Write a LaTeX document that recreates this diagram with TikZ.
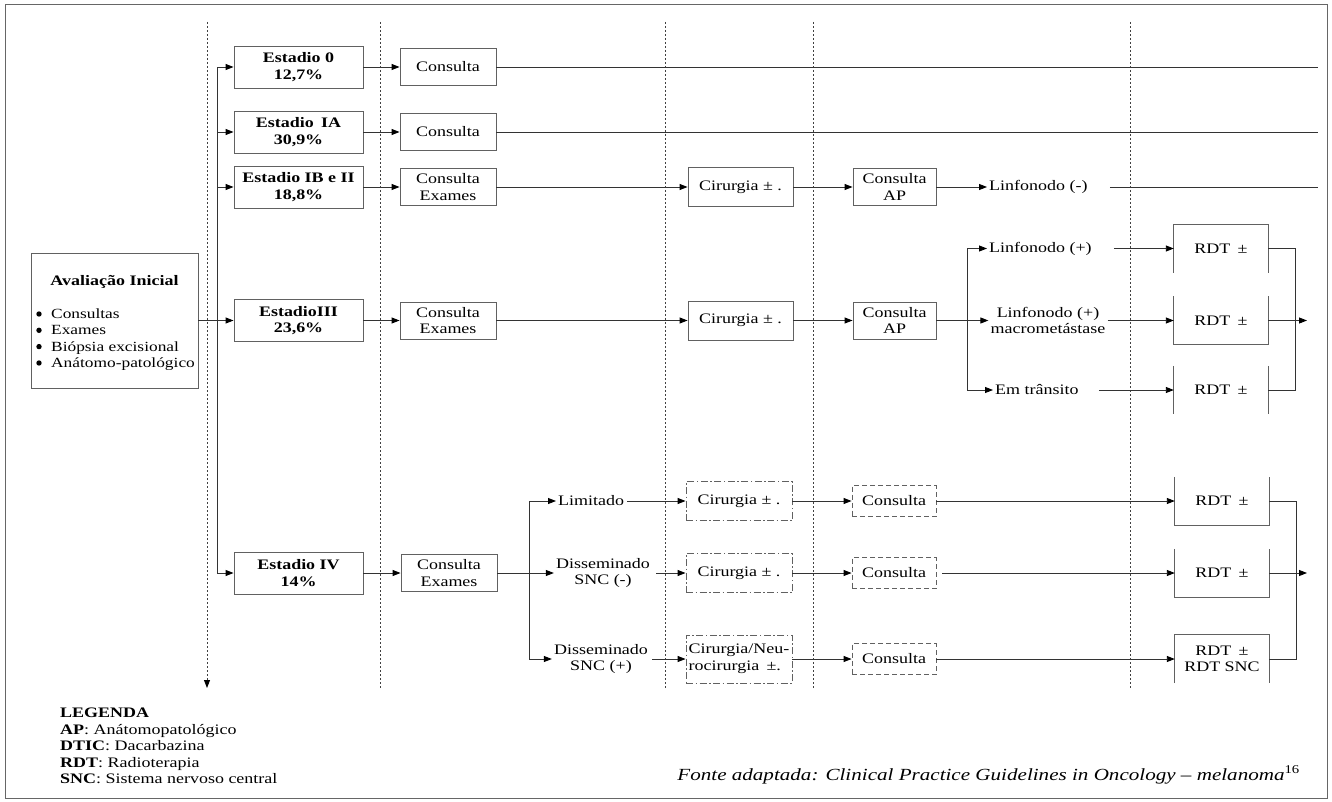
\documentclass[tikz,border=0pt]{standalone}
\usepackage{fontspec}
\setmainfont{Liberation Serif}[FakeStretch=1.24]
\usepackage{tikz}
\usetikzlibrary{arrows.meta}
\definecolor{borda}{gray}{0.38}
\definecolor{traco}{gray}{0.2}
\tikzset{
    linha/.style={draw=traco, line width=0.9pt},
    seta/.style={linha, -{Triangle[length=8pt,width=6pt,color=black]}},
    grade/.style={draw=black!75, line width=0.9pt, dash pattern=on 1.6pt off 2.4pt},
    caixa/.style={draw=borda, line width=0.9pt, align=center, inner sep=2pt},
    estagio/.style={caixa, font=\bfseries, minimum width=129pt, minimum height=42pt},
    consulta/.style={caixa, minimum width=96pt, minimum height=37pt},
    cirurgia/.style={caixa, minimum width=105pt, minimum height=39pt},
    consap/.style={caixa, minimum width=83pt, minimum height=37pt},
    cirtrac/.style={caixa, dash pattern=on 7pt off 2.5pt on 1.5pt off 2.5pt, minimum width=106pt, minimum height=39pt},
    constrac/.style={caixa, dash pattern=on 5pt off 3pt, minimum width=84pt, minimum height=31pt},
    rdt/.style={align=center, inner sep=2pt, minimum width=94pt, minimum height=48pt},
    rotulo/.style={align=center, inner sep=2pt},
    moldura/.style={draw=black!60, line width=1pt}
}
\begin{document}
\fontsize{14.5}{16.5}\selectfont
\begin{tikzpicture}[x=1pt, y=-1pt]
    \useasboundingbox (0,0) rectangle (1332,802);
    \draw[moldura] (5,5) rectangle (1327,798);

    \draw[grade, -{Triangle[length=8pt,width=6pt,color=black]}] (207,22) -- (207,688);
    \foreach \x in {380,665,813,1130}
        \draw[grade] (\x,22) -- (\x,688);

    \node[caixa, minimum width=167pt, minimum height=135pt] (aval) at (114.5,320.5) {};
    \node[font=\bfseries] (avaltit) at (114.5,282) {Avaliação Inicial};
    \node[anchor=north west, align=left, inner sep=0pt, font=\fontsize{14}{16.3}\selectfont] (avallista) at (51,308.5) {Consultas\\Exames\\Biópsia excisional\\Anátomo-patológico};
    \foreach \y in {314,330.3,346.6,363}
        \fill (39,\y) circle (2.7pt);

    \node[estagio] (e0) at (298.5,67) {Estadio 0\\12,7\%};
    \node[estagio] (e1a) at (298.5,132) {Estadio\enspace IA\\30,9\%};
    \node[estagio] (e1b) at (298.5,187) {Estadio IB e II\\18,8\%};
    \node[estagio] (e3) at (298.5,320.5) {EstadioIII\\23,6\%};
    \node[estagio] (e4) at (298.5,573) {Estadio IV\\14\%};

    \node[consulta] (c0) at (448,67) {Consulta};
    \node[consulta] (c1a) at (448,132) {Consulta};
    \node[consulta] (c1b) at (448,187) {Consulta\\Exames};
    \node[consulta] (c3) at (448,320.5) {Consulta\\Exames};
    \node[consulta] (c4) at (449,573) {Consulta\\Exames};

    \coordinate (tronco) at (217,320.5);
    \draw[seta] (aval) -- (e3);
    \draw[seta] (tronco) |- (e0);
    \draw[seta] (tronco) |- (e1a);
    \draw[seta] (tronco) |- (e1b);
    \draw[seta] (tronco) |- (e4);
    \foreach \a/\b in {e0/c0,e1a/c1a,e1b/c1b,e3/c3,e4/c4}
        \draw[seta] (\a) -- (\b);

    \coordinate (fim0) at (1318,67);
    \coordinate (fim1a) at (1318,132);
    \coordinate (fim1b) at (1318,187);
    \draw[linha] (c0) -- (fim0);
    \draw[linha] (c1a) -- (fim1a);

    \node[cirurgia] (cir1b) at (740.5,187) {Cirurgia ± .};
    \node[consap] (ap1b) at (894.5,187) {Consulta\\AP};
    \node[rotulo, anchor=west] (linfneg) at (987,187) {Linfonodo (-)};
    \draw[seta] (c1b) -- (cir1b);
    \draw[seta] (cir1b) -- (ap1b);
    \draw[seta] (ap1b) -- (linfneg);
    \draw[linha] ([xshift=20pt]linfneg.east) -- (fim1b);

    \node[cirurgia] (cir3) at (740.5,320.5) {Cirurgia ± .};
    \node[consap] (ap3) at (894.5,320.5) {Consulta\\AP};
    \draw[seta] (c3) -- (cir3);
    \draw[seta] (cir3) -- (ap3);

    \coordinate (ramo3) at (967,320.5);
    \node[rotulo, anchor=west] (linfpos) at (987,248.5) {Linfonodo (+)};
    \node[rotulo] (macro) at (1048,320.5) {Linfonodo (+)\\macrometástase};
    \node[rotulo, anchor=west] (transito) at (993,390) {Em trânsito};
    \draw[seta] (ap3) -- (macro);
    \draw[seta] (ramo3) |- (linfpos);
    \draw[seta] (ramo3) |- (transito);

    \node[rdt] (rdt1) at (1221,248.5) {RDT\enspace ±};
    \node[rdt] (rdt2) at (1221,320.5) {RDT\enspace ±};
    \node[rdt] (rdt3) at (1221,390) {RDT\enspace ±};
    \draw[borda, line width=0.9pt] (rdt1.south west) -- (rdt1.north west) -- (rdt1.north east) -- (rdt1.south east);
    \draw[borda, line width=0.9pt] (rdt2.north west) -- (rdt2.south west) -- (rdt2.south east) -- (rdt2.north east);
    \draw[borda, line width=0.9pt] (rdt3.north west) -- (rdt3.south west) (rdt3.north east) -- (rdt3.south east);
    \draw[seta] ([xshift=20pt]linfpos.east) -- (rdt1);
    \draw[seta] (macro) -- (rdt2);
    \draw[seta] ([xshift=18pt]transito.east) -- (rdt3);

    \coordinate (coleta3) at (1295,320.5);
    \coordinate (saida3) at (1307,320.5);
    \draw[linha] (rdt1) -| (coleta3) |- (rdt3);
    \draw[seta] (rdt2) -- (saida3);

    \coordinate (ramo4) at (529,573);
    \node[rotulo, anchor=west] (limitado) at (556,501) {Limitado};
    \node[rotulo] (disneg) at (603,573) {Disseminado\\SNC (-)};
    \node[rotulo] (dispos) at (601,659) {Disseminado\\SNC (+)};
    \draw[seta] (c4) -- (disneg);
    \draw[seta] (ramo4) |- (limitado);
    \draw[seta] (ramo4) |- (dispos);

    \node[cirtrac] (cira) at (739,501) {Cirurgia ± .};
    \node[cirtrac] (cirb) at (739,573) {Cirurgia ± .};
    \node[cirtrac, minimum height=48pt, align=left] (circ) at (739,659) {Cirurgia/Neu-\\rocirurgia\enspace ±.};
    \draw[seta] ([xshift=1pt]limitado.east) -- (cira);
    \draw[seta] ([xshift=4pt]disneg.east) -- (cirb);
    \draw[seta] ([xshift=2pt]dispos.east) -- (circ);

    \node[constrac] (consa) at (894,501) {Consulta};
    \node[constrac] (consb) at (894,573) {Consulta};
    \node[constrac] (consc) at (894,659) {Consulta};
    \draw[seta] (cira) -- (consa);
    \draw[seta] (cirb) -- (consb);
    \draw[seta] (circ) -- (consc);

    \node[rdt] (rdt4) at (1222,501) {RDT\enspace ±};
    \node[rdt] (rdt5) at (1222,573) {RDT\enspace ±};
    \node[rdt] (rdt6) at (1222,659) {RDT\enspace ±\\RDT SNC};
    \draw[borda, line width=0.9pt] (rdt4.north west) -- (rdt4.south west) -- (rdt4.south east) -- (rdt4.north east);
    \draw[borda, line width=0.9pt] (rdt5.north west) -- (rdt5.south west) -- (rdt5.south east) -- (rdt5.north east);
    \draw[borda, line width=0.9pt] (rdt6.south west) -- (rdt6.north west) -- (rdt6.north east) -- (rdt6.south east);
    \draw[seta] (consa) -- (rdt4);
    \draw[seta] ([xshift=6pt]consb.east) -- (rdt5);
    \draw[seta] (consc) -- (rdt6);

    \coordinate (coleta4) at (1296,573);
    \coordinate (saida4) at (1307,573);
    \draw[linha] (rdt4) -| (coleta4) |- (rdt6);
    \draw[seta] (rdt5) -- (saida4);

    \node[anchor=north west, align=left, inner sep=0pt] (legenda) at (60,708) {\textbf{LEGENDA}\\\textbf{AP}: Anátomopatológico\\\textbf{DTIC}: Dacarbazina\\\textbf{RDT}: Radioterapia\\\textbf{SNC}: Sistema nervoso central};
    \node[anchor=base east, inner sep=0pt, font=\fontsize{17}{18}\selectfont\itshape] (fonte) at (1300,780) {Fonte adaptada: Clinical Practice Guidelines in Oncology – melanoma\textsuperscript{\upshape 16}};
\end{tikzpicture}
\end{document}
